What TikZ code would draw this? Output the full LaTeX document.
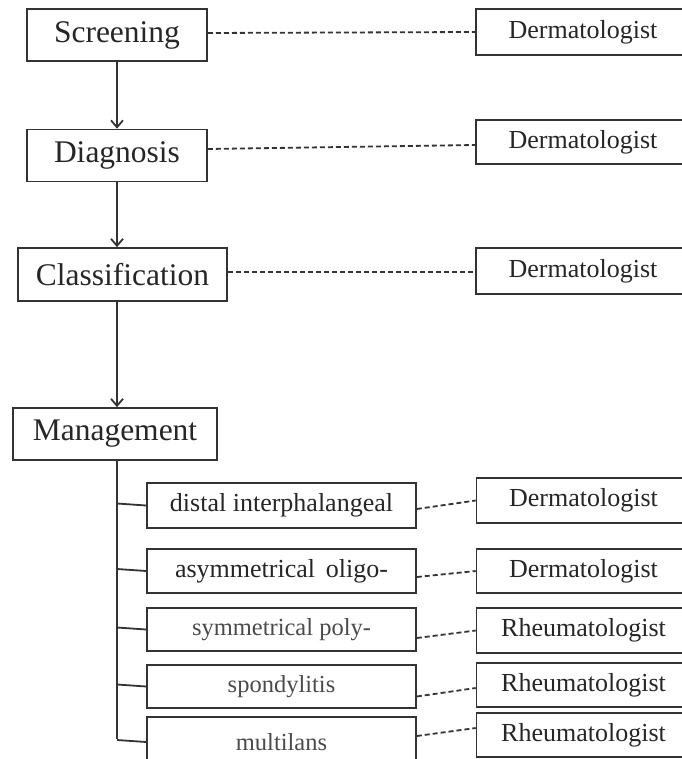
\documentclass[tikz,border=0pt]{standalone}
\usepackage{fontspec}
\setmainfont{Liberation Serif}
\usetikzlibrary{arrows.meta}
\definecolor{ln}{HTML}{333333}
\definecolor{tx}{HTML}{262626}
\definecolor{tl}{HTML}{4A4A4A}
\begin{document}
\begin{tikzpicture}[x=1pt,y=-1pt,
  box/.style={draw=ln,line width=1.6pt,inner sep=0pt,anchor=center,text=tx},
  big/.style={box,minimum height=52pt,font=\fontsize{31.5}{36}\selectfont},
  rbox/.style={box,minimum width=214pt,font=\fontsize{26}{30}\selectfont},
  sbox/.style={box,minimum width=269pt,font=\fontsize{26}{30}\selectfont},
  lbox/.style={sbox,text=tl,font=\fontsize{24.5}{28}\selectfont},
  link/.style={draw=ln,line width=1.8pt,dash pattern=on 5pt off 3pt},
  solid line/.style={draw=ln,line width=1.8pt},
  arr/.style={solid line,-{Straight Barb[length=7pt,width=12pt,line width=1.8pt]}}]
\useasboundingbox (0,0) rectangle (681,759);
\coordinate (sp) at (117,0);
% left column
\node[big,minimum width=180pt] (scr) at (117,35) {Screening};
\node[big,minimum width=180pt] (dia) at (117,155.5) {Diagnosis};
\node[big,minimum width=209pt,minimum height=53pt] (cla) at (122.5,274.5) {Classification};
\node[big,minimum width=204pt] (man) at (115,434) {Management};
% right column top
\node[rbox,minimum height=46pt] (r1) at (583,32) {Dermatologist};
\node[rbox,minimum height=44pt] (r2) at (583,142) {Dermatologist};
\node[rbox,minimum height=46pt] (r3) at (583,271) {Dermatologist};
% sub boxes
\node[sbox,minimum height=45pt] (s1) at (281.5,505.5) {distal interphalangeal};
\node[sbox,minimum height=44pt] (s2) at (281.5,571) {asymmetrical\, oligo-};
\node[lbox,minimum height=43pt] (s3) at (281.5,629.5) {symmetrical poly-};
\node[lbox,minimum height=43pt] (s4) at (281.5,686.5) {spondylitis};
\node[lbox,minimum height=50pt] (s5) at (281.5,742) {multilans};
% right boxes bottom
\node[rbox,minimum height=45pt] (q1) at (583.5,500.5) {Dermatologist};
\node[rbox,minimum height=44pt] (q2) at (583.5,571) {Dermatologist};
\node[rbox,minimum height=45pt] (q3) at (583.5,630.5) {Rheumatologist};
\node[rbox,minimum height=44pt] (q4) at (583.5,685) {Rheumatologist};
\node[rbox,minimum height=44pt] (q5) at (583.5,735) {Rheumatologist};
% arrows
\draw[arr] (scr.south -| sp) -- (dia.north -| sp);
\draw[arr] (dia.south -| sp) -- (cla.north -| sp);
\draw[arr] (cla.south -| sp) -- (man.north -| sp);
% spine and branches
\draw[solid line] (man.south -| sp) -- ([yshift=3pt]s5.west -| sp);
\foreach \s in {s1,s2,s3,s4,s5}
  \draw[solid line] ([yshift=2pt]\s.west -| sp) -- (\s.west);
% dashed links top
\draw[link] ([yshift=2pt]scr.east) -- (r1.west);
\draw[link] ([yshift=6.5pt]dia.east) -- ([yshift=-3pt]r2.west);
\draw[link] ([yshift=2.5pt]cla.east) -- ([yshift=-1pt]r3.west);
% dashed links bottom
\draw[link] ([yshift=-3.5pt]s1.east) -- (q1.west);
\draw[link] ([yshift=-6pt]s2.east) -- (q2.west);
\draw[link] ([yshift=-8.5pt]s3.east) -- (q3.west);
\draw[link] ([yshift=-10pt]s4.east) -- ([yshift=-3pt]q4.west);
\draw[link] ([yshift=6pt]s5.east) -- ([yshift=7pt]q5.west);
\end{tikzpicture}
\end{document}
